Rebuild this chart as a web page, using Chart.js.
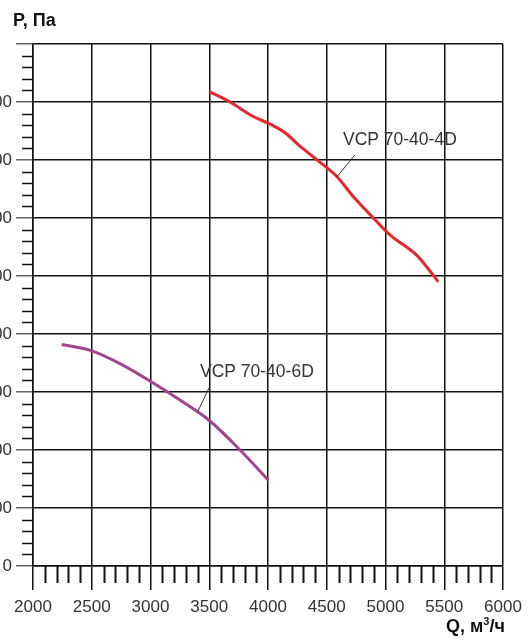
<!DOCTYPE html>
<html>
<head>
<meta charset="utf-8">
<script src="https://cdn.jsdelivr.net/npm/chart.js@4/dist/chart.umd.min.js"></script>
<style>
  body { margin: 0; width: 530px; height: 640px; overflow: hidden; position: relative; background: #fff;
         font-family: "Liberation Sans", Arial, sans-serif; }
  #wrap { position: absolute; left: -20px; top: 0; width: 550px; height: 640px; }
  .axis-title { position: absolute; font-weight: bold; color: #111; font-size: 18px; line-height: 20px; white-space: nowrap; }
  .axis-title .sup { font-size: 11px; position: relative; top: -7px; }
</style>
</head>
<body>
<div id="wrap"><canvas id="chart"></canvas></div>
<div class="axis-title" style="left:13px; top:10px;">P, Па</div>
<div class="axis-title" style="left:446px; top:616px;">Q, м<span class="sup">3</span>/ч</div>
<script>
// VCP 70-40-4D
const qFast = [3500, 3677, 3875, 4017, 4145, 4272, 4400, 4584, 4726, 4911, 5038, 5265, 5350, 5449];
const pFast = [818, 800, 775, 762, 747, 724, 703, 672, 637, 597, 571, 536, 516, 490];
// VCP 70-40-6D
const qSlow = [2244, 2500, 2740, 2996, 3251, 3506, 3762, 4003];
const pSlow = [382, 371, 349, 319, 286, 250, 200, 148];

const xTicks = [2000, 2500, 3000, 3500, 4000, 4500, 5000, 5500, 6000];
const yTicks = [0, 100, 200, 300, 400, 500, 600, 700, 800, 900];

// curve labels: text, anchor point, leader line start/end
const curveLabels = [
  { text: 'VCP 70-40-4D', q: 4638, p: 726, from: [4740, 709], to: [4587, 671] },
  { text: 'VCP 70-40-6D', q: 3421, p: 326, from: [3498, 307], to: [3404, 267] }
];

function toPoints(xs, ys) {
  return xs.map((v, i) => ({ x: v, y: ys[i] }));
}

// minor ticks and curve captions
const extras = {
  id: 'extras',
  beforeDatasetsDraw(chart) {
    const ctx = chart.ctx;
    const x = chart.scales.x;
    const y = chart.scales.y;
    ctx.save();
    ctx.strokeStyle = '#111';
    ctx.lineWidth = 2;
    for (let i = 0; i < xTicks.length - 1; i++) {
      for (let k = 1; k < 5; k++) {
        const px = Math.round(x.getPixelForValue(xTicks[i] + k * 100)) + 0.5;
        ctx.beginPath();
        ctx.moveTo(px, y.bottom);
        ctx.lineTo(px, y.bottom + 17);
        ctx.stroke();
      }
    }
    ctx.lineWidth = 1.5;
    for (let i = 0; i < yTicks.length - 1; i++) {
      for (let k = 1; k < 5; k++) {
        const py = Math.round(y.getPixelForValue(yTicks[i] + k * 20)) + 0.5;
        ctx.beginPath();
        ctx.moveTo(x.left - 11, py);
        ctx.lineTo(x.left, py);
        ctx.stroke();
      }
    }
    ctx.restore();
  },
  afterDatasetsDraw(chart) {
    const ctx = chart.ctx;
    const x = chart.scales.x;
    const y = chart.scales.y;
    ctx.save();
    ctx.font = '17.5px "Liberation Sans", Arial, sans-serif';
    ctx.fillStyle = '#333';
    ctx.strokeStyle = '#333';
    ctx.lineWidth = 1;
    ctx.textBaseline = 'alphabetic';
    curveLabels.forEach(l => {
      ctx.fillText(l.text, x.getPixelForValue(l.q), y.getPixelForValue(l.p));
      ctx.beginPath();
      ctx.moveTo(x.getPixelForValue(l.from[0]), y.getPixelForValue(l.from[1]));
      ctx.lineTo(x.getPixelForValue(l.to[0]), y.getPixelForValue(l.to[1]));
      ctx.stroke();
    });
    ctx.restore();
  }
};

const tickFont = { family: '"Liberation Sans", Arial, sans-serif', size: 17 };

new Chart(document.getElementById('chart'), {
  type: 'line',
  data: {
    datasets: [
      {
        label: 'VCP 70-40-4D',
        data: toPoints(qFast, pFast),
        borderColor: '#e8262d',
        borderWidth: 3,
        pointRadius: 0,
        cubicInterpolationMode: 'monotone'
      },
      {
        label: 'VCP 70-40-6D',
        data: toPoints(qSlow, pSlow),
        borderColor: '#a3448f',
        borderWidth: 3,
        pointRadius: 0,
        cubicInterpolationMode: 'monotone'
      }
    ]
  },
  options: {
    responsive: true,
    maintainAspectRatio: false,
    animation: false,
    layout: { padding: { top: 44, right: 27, left: 0, bottom: 0 } },
    plugins: { legend: { display: false }, tooltip: { enabled: false } },
    scales: {
      x: {
        type: 'linear',
        min: xTicks[0],
        max: xTicks[xTicks.length - 1],
        afterBuildTicks: s => { s.ticks = xTicks.map(v => ({ value: v })); },
        afterFit: s => { s.height = 74; },
        ticks: { font: tickFont, color: '#333', padding: 7, maxRotation: 0, callback: v => String(v) },
        grid: { color: '#111', lineWidth: 1.5, tickLength: 24, tickColor: '#111' },
        border: { color: '#111', width: 1.5 }
      },
      y: {
        min: yTicks[0],
        max: yTicks[yTicks.length - 1],
        afterBuildTicks: s => { s.ticks = yTicks.map(v => ({ value: v })); },
        afterFit: s => { s.width = 53; },
        ticks: {
          font: tickFont, color: '#333', padding: 4,
          callback: v => (v === yTicks[yTicks.length - 1] ? '' : String(v))
        },
        grid: { color: '#111', lineWidth: 1.5, tickLength: 17, tickColor: '#666' },
        border: { color: '#111', width: 1.5 }
      }
    }
  },
  plugins: [extras]
});
</script>
</body>
</html>
